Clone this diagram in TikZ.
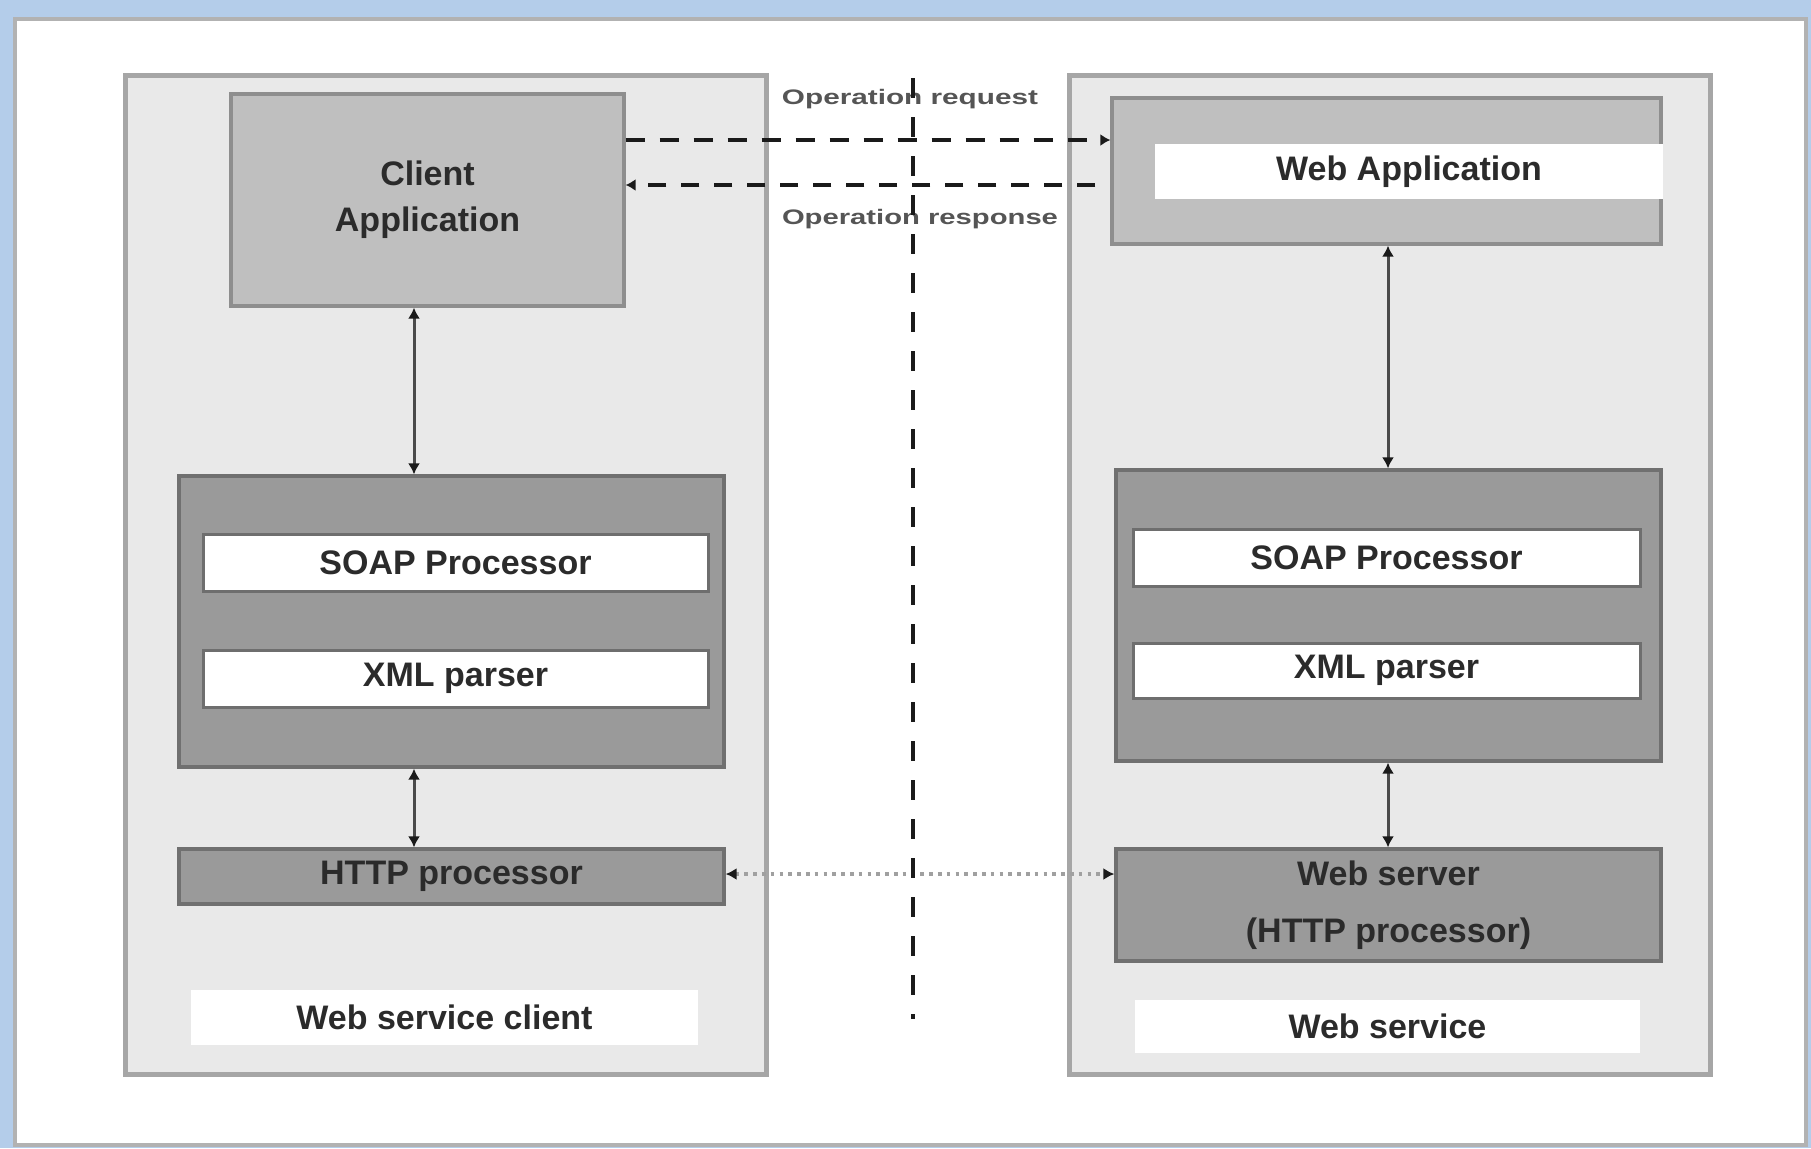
\documentclass[tikz,border=0pt]{standalone}
\usepackage{fontspec}
\usepackage{graphicx}
\setmainfont{Liberation Sans}
\usetikzlibrary{arrows.meta}
\definecolor{bgblue}{HTML}{B4CDEA}
\definecolor{framegray}{HTML}{B2B2B2}
\definecolor{panelfill}{HTML}{E9E9E9}
\definecolor{panelline}{HTML}{A6A6A6}
\definecolor{appfill}{HTML}{BFBFBF}
\definecolor{appline}{HTML}{8E8E8E}
\definecolor{procfill}{HTML}{9A9A9A}
\definecolor{procline}{HTML}{707070}
\definecolor{barline}{HTML}{6E6E6E}
\definecolor{txt}{HTML}{2B2B2B}
\definecolor{optxt}{HTML}{555555}
\definecolor{tipcol}{HTML}{1A1A1A}
\definecolor{conncol}{HTML}{4A4A4A}
\definecolor{dotcol}{HTML}{A0A0A0}
\tikzset{
  panel/.style={draw=panelline, fill=panelfill, line width=2.5pt, inner sep=0pt},
  appbox/.style={draw=appline, fill=appfill, line width=1.6pt, inner sep=0pt},
  procbox/.style={draw=procline, fill=procfill, line width=1.6pt, inner sep=0pt},
  whitebar/.style={draw=barline, fill=white, line width=1.5pt, inner sep=0pt},
  plainbar/.style={fill=white, inner sep=0pt},
  lbl/.style={font=\fontsize{17}{23}\selectfont\bfseries, text=txt, align=center},
  oplbl/.style={font=\fontsize{10.5}{12}\selectfont\bfseries, text=optxt, inner sep=0pt},
  biarrow/.style={draw=conncol, line width=1.5pt, {Latex[length=5.5pt,width=6pt,color=tipcol]}-{Latex[length=5.5pt,width=6pt,color=tipcol]}},
  reqline/.style={draw=tipcol, line width=2.3pt, dash pattern=on 9.5pt off 7.5pt, -{Latex[length=5pt,width=6pt]}},
  respline/.style={draw=tipcol, line width=1.8pt, dash pattern=on 9pt off 7.5pt, -{Latex[length=5pt,width=6pt]}},
  dotline/.style={draw=dotcol, line width=1.8pt, dash pattern=on 1.8pt off 2.6pt, {Latex[length=5.5pt,width=6pt,color=tipcol]}-{Latex[length=5.5pt,width=6pt,color=tipcol]}},
  divider/.style={draw=tipcol, line width=2.4pt, dash pattern=on 10pt off 9.5pt}
}
\begin{document}
\begin{tikzpicture}[x=0.5pt,y=-0.5pt]
\useasboundingbox (0,0) rectangle (1811,1148);
\fill[bgblue] (0,0) rectangle (1811,1148);
\draw[framegray, fill=white, line width=2pt] (15,19) rectangle (1806,1145);

% panels
\node[panel, minimum width=320.5pt, minimum height=499.5pt] (cp) at (445.5,574.5) {};
\node[panel, minimum width=320.5pt, minimum height=499.5pt] (sp) at (1389.5,574.5) {};

% client side
\node[appbox, lbl, minimum width=196.5pt, minimum height=106pt] (ca) at (427.5,200) {Client\\Application};
\node[procbox, minimum width=272.5pt, minimum height=145.5pt] (cc) at (451.5,621.5) {};
\node[whitebar, lbl, minimum width=252.5pt, minimum height=28.5pt] (csoap) at (455.5,562.5) {SOAP Processor};
\node[whitebar, lbl, minimum width=252.5pt, minimum height=28.5pt] (cxml) at (455.5,678.5) {XML parser};
\node[procbox, lbl, minimum width=272.5pt, minimum height=27.5pt] (chttp) at (451.5,876.5) {HTTP processor};
\node[plainbar, lbl, minimum width=253.5pt, minimum height=27.5pt] (clab) at (444.5,1017.5) {Web service client};

% service side
\node[appbox, minimum width=274.5pt, minimum height=73pt] (wa) at (1386.5,171) {};
\node[plainbar, lbl, minimum width=254pt, minimum height=27.5pt] (wastrip) at (1409,171.5) {Web Application};
\node[procbox, minimum width=272.5pt, minimum height=145.5pt] (sc) at (1388.5,615.5) {};
\node[whitebar, lbl, minimum width=253.5pt, minimum height=28.5pt] (ssoap) at (1386.5,557.5) {SOAP Processor};
\node[whitebar, lbl, minimum width=253.5pt, minimum height=27.5pt] (sxml) at (1386.5,670.5) {XML parser};
\node[procbox, lbl, font=\fontsize{17}{28.5}\selectfont\bfseries, minimum width=272.5pt, minimum height=56pt] (wsrv) at (1388.5,905) {Web server\\(HTTP processor)};
\node[plainbar, lbl, minimum width=252.5pt, minimum height=26.5pt] (slab) at (1387.5,1026.5) {Web service};

% vertical connectors
\coordinate (lx) at (414,0);
\coordinate (rx) at (1388,0);
\draw[biarrow] (lx |- ca.south) -- (lx |- cc.north);
\draw[biarrow] (lx |- cc.south) -- (lx |- chttp.north);
\draw[biarrow] (rx |- wa.south) -- (rx |- sc.north);
\draw[biarrow] (rx |- sc.south) -- (rx |- wsrv.north);

% HTTP link
\coordinate (hy) at (0,874);
\draw[dotline] (chttp.east |- hy) -- (wsrv.west |- hy);

% operation request / response
\coordinate (reqy) at (0,140);
\coordinate (respy) at (0,185);
\draw[reqline] (ca.east |- reqy) -- (wa.west |- reqy);
\draw[respline] ([xshift=-7.5pt]wa.west |- respy) -- (ca.east |- respy);

\node[oplbl] (opreq) at (910,99) {\resizebox{128pt}{\height}{Operation request}};
\node[oplbl] (opresp) at (920,219) {\resizebox{138pt}{\height}{Operation response}};

% divider
\coordinate (vtop) at (913,78);
\coordinate (vbot) at (913,1019);
\draw[divider] (vtop) -- (vbot);
\end{tikzpicture}
\end{document}
